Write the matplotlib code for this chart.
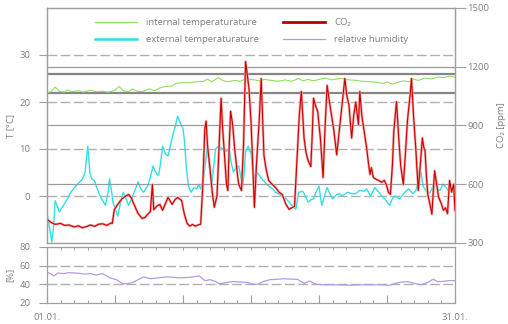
import matplotlib
matplotlib.use("Agg")
from matplotlib import pyplot as plt
from matplotlib.ticker import MultipleLocator, FixedLocator
from matplotlib.lines import Line2D

plt.rcParams['font.family'] = ['Open Sans', 'DejaVu Sans']
plt.rcParams['font.size'] = 6.8

# January, day offsets from 01.01.
int_day = [0, 0.3, 0.6, 0.9, 1.3, 1.5, 1.8, 2.3, 2.7, 3.2, 3.6, 4.0, 4.5, 5.0, 5.3, 5.6, 6.0, 6.3, 6.6,
           7.0, 7.5, 7.9, 8.3, 8.7, 9.2, 9.5, 10.0, 10.5, 11.0, 11.5, 11.8, 12.1, 12.6, 12.9, 13.3, 13.8,
           14.2, 14.6, 14.9, 15.3, 15.6, 16.0, 16.5, 17.0, 17.5, 18.0, 18.5, 18.8, 19.2, 19.6, 20.0, 20.5,
           20.9, 21.3, 21.7, 22.2, 22.7, 23.2, 23.8, 24.3, 24.7, 25.0, 25.4, 25.8, 26.2, 26.6, 26.9, 27.3,
           27.8, 28.3, 28.7, 29.2, 29.6, 30.0]
int_t = [22.0, 22.2, 23.2, 22.3, 22.1, 22.6, 22.2, 22.4, 22.1, 22.5, 22.2, 22.3, 22.1, 22.5, 23.3, 22.4,
         22.2, 22.8, 22.3, 22.2, 22.8, 22.4, 23.0, 23.3, 23.4, 24.0, 24.1, 24.1, 24.3, 24.4, 24.9, 24.3,
         25.2, 24.6, 24.3, 24.6, 24.4, 24.9, 24.8, 24.7, 24.5, 24.8, 24.6, 24.4, 24.7, 24.4, 25.0, 24.5,
         24.8, 24.5, 24.8, 25.1, 24.7, 24.9, 25.0, 24.7, 24.6, 24.4, 24.3, 24.2, 23.9, 24.3, 23.8, 24.2,
         24.5, 24.3, 24.9, 24.6, 25.1, 24.9, 25.3, 25.2, 25.5, 25.3]

ext_day = [0.0, 0.2, 0.35, 0.5, 0.6, 0.8, 0.9, 1.2, 1.5, 1.8, 2.1, 2.4, 2.6, 2.8, 2.9, 3.0, 3.15, 3.3, 3.5,
           3.7, 3.9, 4.1, 4.3, 4.5, 4.6, 4.75, 4.85, 5.0, 5.2, 5.4, 5.6, 5.8, 6.0, 6.15, 6.3, 6.5, 6.7, 6.9,
           7.1, 7.25, 7.4, 7.6, 7.8, 8.0, 8.2, 8.35, 8.5, 8.7, 8.9, 9.1, 9.3, 9.45, 9.6, 9.8, 10.0, 10.1,
           10.25, 10.4, 10.6, 10.8, 11.0, 11.15, 11.3, 11.5, 11.65, 11.8, 11.95, 12.1, 12.25, 12.4, 12.6,
           12.8, 13.0, 13.2, 13.4, 13.55, 13.7, 13.9, 14.1, 14.25, 14.4, 14.5, 14.6, 14.8, 15.0, 15.2, 15.4,
           15.6, 15.8, 16.0, 16.3, 16.6, 16.8, 17.0, 17.3, 17.55, 17.8, 18.0, 18.3, 18.5, 18.8, 19.0, 19.2,
           19.4, 19.6, 19.8, 20.0, 20.2, 20.4, 20.6, 20.8, 21.0, 21.3, 21.5, 21.7, 22.1, 22.4, 22.7, 23.0,
           23.3, 23.5, 23.8, 24.1, 24.4, 24.6, 24.85, 25.0, 25.2, 25.4, 25.6, 25.9, 26.1, 26.3, 26.6, 26.9,
           27.1, 27.3, 27.5, 27.65, 27.9, 28.1, 28.3, 28.5, 28.7, 28.9, 29.1, 29.3, 29.5, 29.7, 30.0]
ext_t = [-3.5, -7, -9.8, -6, -1, -2.5, -3.4, -2, -0.6, 1, 2.1, 3, 3.6, 5, 8, 10.6, 5, 3.6, 3.2,
         1.5, 0, -1, -2, 1, 3.6, 1, -1.3, -2.5, -4.3, -1.5, 0.8, -0.5, -2, -1, 0, 1.5, 3, 1.5,
         0.8, 1.5, 2.1, 4, 6.4, 5, 4.3, 7, 10.6, 9, 8.5, 11, 13.6, 15, 17, 15.5, 14.3, 12,
         6, 2.1, 0.8, 1.8, 1.5, 2.5, 1.5, 3.6, 7, 10.6, 6, 2.1, 6, 10, 10.6,
         10.2, 10, 9.5, 10, 7, 5.1, 6, 6.4, 4, 2.1, 5, 9.4, 10.6, 9, 3.6, 5.1,
         4.5, 3.6, 3, 2.1, 1.5, 0.8, 0.5, 0, -0.5, -1.3, -2, -2.8, 0.8, 1.0, 0, -1.3,
         -0.8, -0.6, 1, 2.1, -2, 0, 1.8, 0.5, -0.6, 0.3, 0.5, 0, 0.8, 0.5, 0.5, 1.2,
         1, 1.5, 0, 1.8, 0.8, 0, -0.6, -1.3, -2, -0.5, 0, -0.6, 0, 0.8, 1.5, 0.5,
         1, 3, 5.1, 2.1, 1, 0.5, 1.5, 3, 1.5, 1.2, 2.5, 2, 1.2, 1.5, 2.1]

co2_day = [0.1, 0.3, 0.6, 1.0, 1.3, 1.6, 2.0, 2.3, 2.6, 2.9, 3.2, 3.5, 3.8, 4.1, 4.4, 4.7, 4.8, 4.95,
           5.2, 5.5, 5.8, 6.0, 6.2, 6.4, 6.7, 7.0, 7.2, 7.4, 7.6, 7.75, 7.85, 8.1, 8.3, 8.5, 8.7, 8.9,
           9.2, 9.4, 9.6, 9.9, 10.1, 10.3, 10.5, 10.7, 10.9, 11.1, 11.3, 11.45, 11.6, 11.7, 11.8, 12.0,
           12.15, 12.3, 12.5, 12.65, 12.8, 12.9, 13.05, 13.2, 13.3, 13.4, 13.5, 13.65, 13.8, 14.0, 14.1,
           14.3, 14.45, 14.6, 14.7, 14.85, 15.0, 15.1, 15.25, 15.4, 15.6, 15.75, 15.95, 16.1, 16.3,
           16.55, 16.8, 17.05, 17.3, 17.55, 17.8, 18.0, 18.2, 18.4, 18.55, 18.7, 18.9, 19.05, 19.2,
           19.4, 19.5, 19.6, 19.75, 19.9, 20.1, 20.3, 20.45, 20.6, 20.8, 21.1, 21.3, 21.5, 21.7, 21.9,
           22.05, 22.2, 22.4, 22.55, 22.7, 22.9, 23.0, 23.15, 23.3, 23.5, 23.65, 23.75, 23.85, 24.0,
           24.2, 24.4, 24.6, 24.8, 24.95, 25.1, 25.25, 25.4, 25.5, 25.7, 25.85, 26.0, 26.2, 26.35,
           26.5, 26.7, 26.8, 26.95, 27.1, 27.3, 27.45, 27.6, 27.7, 27.8, 27.9, 28.0, 28.15, 28.3,
           28.5, 28.65, 28.8, 29.0, 29.15, 29.3, 29.45, 29.6, 29.75, 29.9, 30.0]
co2_ppm = [416, 405, 395, 400, 390, 392, 382, 388, 378, 384, 392, 385, 396, 398, 390, 402, 400, 470,
           497, 525, 540, 548, 530, 497, 450, 425, 430, 447, 460, 599, 470, 490, 497, 467, 500, 533,
           497, 520, 533, 517, 447, 400, 386, 395, 386, 392, 396, 584, 880, 922, 800, 669,
           560, 482, 540, 786, 1039, 900, 750, 600, 568, 800, 973, 905, 780, 650, 599,
           568, 800, 1226, 1175, 1089, 922, 750, 482, 700, 922, 1140, 750, 680, 619,
           600, 584, 560, 548, 500, 472, 480, 487, 750, 950, 1074, 836, 760, 720,
           690, 850, 1039, 1000, 973, 836, 634, 900, 1105, 1006, 871, 750, 880, 1006, 1140,
           1050, 1006, 836, 950, 1020, 905, 1074, 950, 880, 786, 700, 650, 685, 634,
           625, 619, 610, 620, 599, 560, 548, 700, 871, 1022, 850, 700, 599, 750,
           922, 1056, 1140, 950, 800, 568, 700, 836, 790, 770, 640, 548, 500, 447,
           669, 600, 533, 500, 467, 480, 450, 619, 560, 600, 467]

hum_day = [0, 0.3, 0.5, 0.8, 1.2, 1.6, 2.2, 2.8, 3.2, 3.6, 4.1, 4.6, 5.1, 5.6, 6.0, 6.3, 6.7, 7.1, 7.6,
           8.2, 8.8, 9.3, 9.8, 10.5, 11.2, 11.6, 12.0, 12.4, 12.7, 13.2, 13.7, 14.2, 14.7, 15.1, 15.5,
           15.9, 16.4, 17.0, 17.4, 18.0, 18.4, 18.9, 19.3, 19.8, 20.6, 21.4, 22.3, 23.0, 23.7, 24.5,
           25.2, 25.6, 25.9, 26.5, 27.0, 27.5, 28.0, 28.4, 28.7, 29.0, 29.6, 30.0]
hum_pct = [53, 51, 49, 52, 51.5, 52.5, 52, 51, 51.5, 50, 51.5, 47, 45, 40.5, 41, 42, 45, 48, 46,
           47, 48, 47.5, 47, 47.5, 49, 44, 45, 43, 40.5, 42, 43, 42.5, 42, 40.5, 40,
           43, 45, 45.5, 46, 45.5, 45.5, 41, 43.5, 40, 39.5, 39.5, 39, 39.5, 39.5, 39.5,
           39, 41, 42, 43, 41, 39.5, 42, 45.5, 43, 43, 44, 44]

comfort_band = [22, 26]
t_ticks = [0, 10, 20, 30]
co2_ticks = [300, 600, 900, 1200, 1500]
co2_grid = [600, 900, 1200]
hum_ticks = [20, 40, 60, 80]
hum_grid = [40, 60]
date_ticks = [0, 5, 10, 15, 20, 25, 30]
date_labels = ['01.01.', '', '', '', '', '', '31.01.']

GREEN, CYAN, RED, PURPLE = '#8ee05c', '#2fe0e6', '#cc0000', '#b39ae8'
GRID, SPINE, TXT = '#b0b0b0', '#a0a0a0', '#808080'
DASH = (0, (7, 2.5))

W, H = 508, 324
fig = plt.figure(figsize=(W / 100, H / 100), dpi=100)
ax = fig.add_axes([47 / W, 1 - 243 / H, 408 / W, 235 / H])
axh = fig.add_axes([47 / W, 1 - 303 / H, 408 / W, 56 / H])

# temperature panel
ax.set_xlim(0, 30)
ax.set_ylim(-10, 40)
for t in t_ticks:
    ax.axhline(t, color=GRID, lw=1, ls=DASH, zorder=1)
for t in comfort_band:
    ax.axhline(t, color='#858585', lw=1.6, zorder=1)
ax.plot(ext_day, ext_t, color=CYAN, lw=1.0, zorder=2)
ax.plot(int_day, int_t, color=GREEN, lw=0.8, zorder=4)
ax.set_yticks(t_ticks)
ax.set_xticks([])
ax.tick_params(axis='y', direction='out', length=6, width=0.8, color=SPINE, pad=6, labelcolor=TXT)
ax.set_ylabel('T [°C]', color=TXT)
ax.yaxis.set_label_coords(-0.079, 0.5)

# CO2 on its own right-hand scale; pale halo under the trace
ax2 = ax.twinx()
ax2.set_ylim(300, 1500)
for c in co2_grid:
    ax2.axhline(c, color='#9a9a9a', lw=0.9, zorder=1)
ax2.plot(co2_day, co2_ppm, color='#f2a6a6', lw=1.8, zorder=2)
ax2.plot(co2_day, co2_ppm, color=RED, lw=0.8, zorder=3)
ax2.set_yticks(co2_ticks)
ax2.tick_params(axis='y', direction='out', length=8, width=0.8, color=SPINE, pad=1, labelcolor=TXT)
ax2.set_ylabel('CO₂ [ppm]', color=TXT)
ax2.yaxis.set_label_coords(1.103, 0.5)

for a in (ax, ax2, axh):
    for s in a.spines.values():
        s.set_color(SPINE)
        s.set_linewidth(0.9)

handles = [Line2D([], [], color=GREEN, lw=0.9), Line2D([], [], color=CYAN, lw=1.8),
           Line2D([], [], color='#b80000', lw=2.0), Line2D([], [], color=PURPLE, lw=0.9)]
names = ['internal temperaturature', 'external temperaturature', 'CO₂', 'relative humidity']
leg = ax.legend(handles, names, ncol=2, loc='upper left', bbox_to_anchor=(0.1176, 0.957),
                frameon=False, borderpad=0, borderaxespad=0, handlelength=4.4, handletextpad=1.0,
                columnspacing=2.6, labelspacing=0.85, labelcolor=TXT)

# humidity panel
axh.set_xlim(0, 30)
axh.set_ylim(20, 80)
for hh in hum_grid:
    axh.axhline(hh, color=GRID, lw=1, ls=DASH, zorder=1)
axh.plot(hum_day, hum_pct, color=PURPLE, lw=0.9, zorder=2)
axh.set_yticks(hum_ticks)
axh.tick_params(axis='y', direction='out', length=6, width=0.8, color=SPINE, pad=6, labelcolor=TXT)
axh.xaxis.set_major_locator(FixedLocator(date_ticks))
axh.xaxis.set_minor_locator(MultipleLocator(1))
axh.set_xticklabels(date_labels)
axh.tick_params(axis='x', which='major', direction='in', length=6, width=0.8, color=SPINE,
                pad=7, labelcolor=TXT)
axh.tick_params(axis='x', which='minor', direction='in', length=2.5, width=0.7, color=SPINE)
top = axh.secondary_xaxis('top')
top.xaxis.set_major_locator(MultipleLocator(1))
top.tick_params(direction='in', length=2, width=0.7, color=SPINE, labeltop=False)
top.spines['top'].set_color(SPINE)
axh.set_ylabel('[%]', color=TXT)
axh.yaxis.set_label_coords(-0.081, 0.5)

fig.savefig('out.png', dpi=100)
